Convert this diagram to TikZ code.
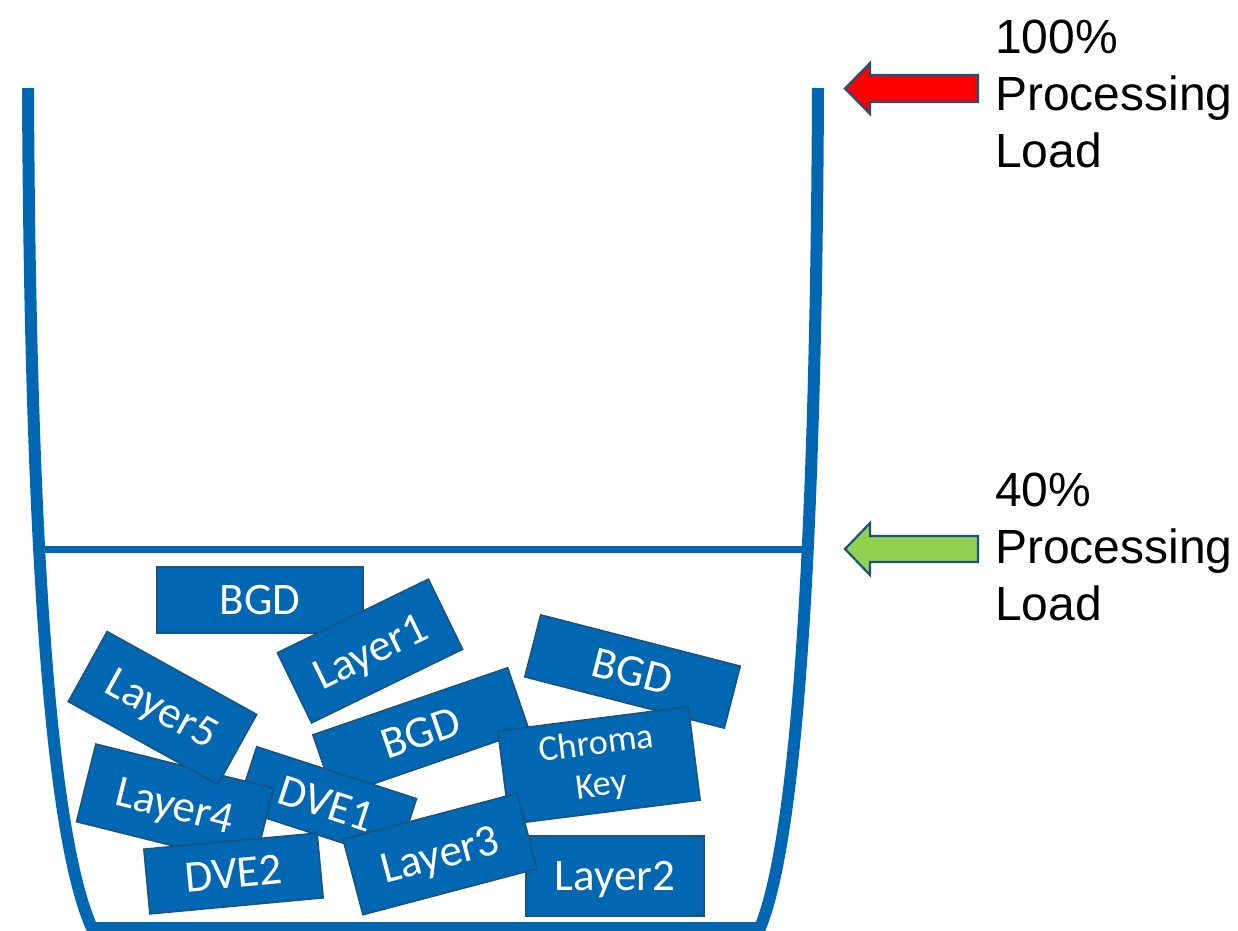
\documentclass[tikz,border=0pt]{standalone}
\usepackage{fontspec}
\setmainfont{Liberation Sans}
\newfontfamily\chipfont{Carlito}
\usetikzlibrary{arrows}
\definecolor{bucketblue}{RGB}{0,104,178}
\definecolor{edgeblue}{RGB}{28,82,128}
\definecolor{loadgreen}{RGB}{146,208,80}

\begin{document}
\begin{tikzpicture}[x=1pt,y=-1pt,
	chipbox/.style={fill=bucketblue,draw=edgeblue,line width=1.6pt,text=white,inner sep=0pt},
	chip/.style={chipbox,font=\chipfont\fontsize{45}{50}\selectfont,text height=29pt,text depth=0pt},
	loadlabel/.style={anchor=base west,align=left,inner sep=0pt,font=\fontsize{48}{57}\selectfont},
	loadarrow/.style={draw=edgeblue,line width=2.2pt,line join=miter}]
	\useasboundingbox (0,0) rectangle (1238,930);

	\draw[bucketblue,line width=12pt,line join=round]
		(28,88) .. controls (30,560) and (52,840) .. (92,928)
		-- (760,928) .. controls (796,840) and (816,560) .. (818,88);
	\draw[bucketblue,line width=7pt] (34,549) -- (812,549);

	\node[chip,minimum width=206,minimum height=66] (bgda) at (260,600) {BGD};
	\node[chip,minimum width=168,minimum height=78,rotate=26] (layer1) at (370,651) {Layer1};
	\node[chip,minimum width=206,minimum height=66,rotate=19] (bgdb) at (421,732.5) {BGD};
	\node[chip,minimum width=206,minimum height=64,rotate=-14.4] (bgdc) at (632.5,671.5) {BGD};
	\node[chipbox,minimum width=192,minimum height=94,rotate=7.2,align=center,
		font=\chipfont\fontsize{36}{42}\selectfont] (chroma) at (599,765.5) {Chroma\\Key};
	\node[chip,minimum width=168,minimum height=65,rotate=-18] (dve1) at (326.6,803.6) {DVE1};
	\node[chip,minimum width=183,minimum height=80,rotate=-14] (layer4) at (175,805) {Layer4};
	\node[chip,minimum width=171,minimum height=80,rotate=-29] (layer5) at (162.5,708) {Layer5};
	\node[chip,minimum width=174,minimum height=65,rotate=5.3] (dve2) at (233.5,873.5) {DVE2};
	\node[chip,minimum width=178,minimum height=80] (layer2) at (615,876) {Layer2};
	\node[chip,minimum width=180,minimum height=78,rotate=14.8] (layer3) at (440,854) {Layer3};

	\filldraw[loadarrow,fill=red] (845,88.5) -- (870,63) -- (870,75) -- (978,75)
		-- (978,102) -- (870,102) -- (870,114) -- cycle;
	\filldraw[loadarrow,fill=loadgreen] (845,549) -- (870,523) -- (870,536) -- (978,536)
		-- (978,562) -- (870,562) -- (870,575) -- cycle;

	\node[loadlabel] (full) at (995,167) {100\%\\Processing\\Load};
	\node[loadlabel] (part) at (995,620) {40\%\\Processing\\Load};
\end{tikzpicture}
\end{document}
